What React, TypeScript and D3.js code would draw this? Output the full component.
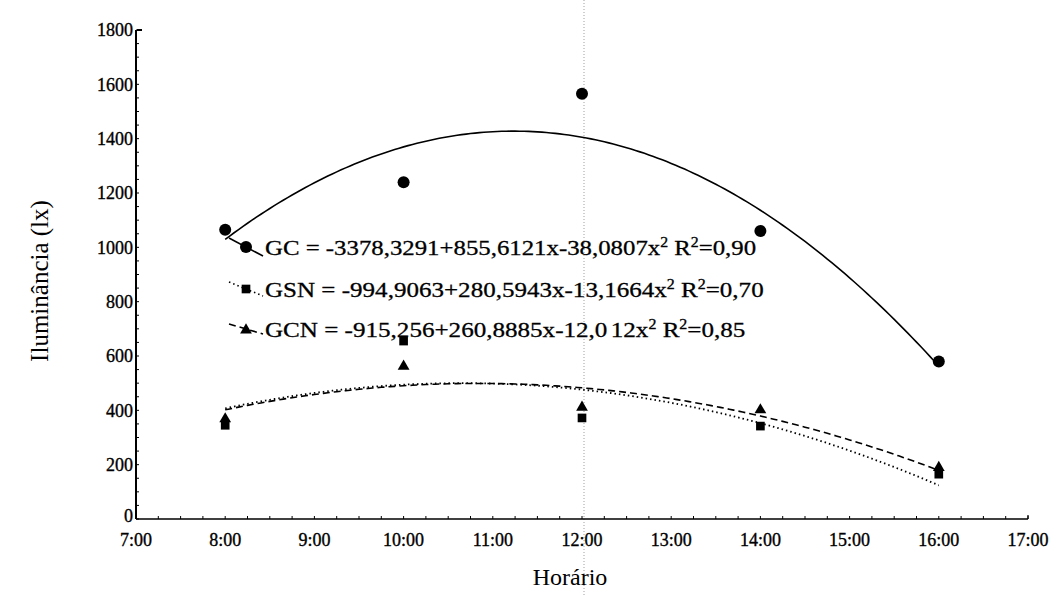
import React from "react";
import * as d3 from "d3";

const hours = [8, 10, 12, 14, 16];
const gcValues = [1065, 1240, 1565, 1060, 580];
const gsnValues = [345, 655, 372, 342, 165];
const gcnValues = [372, 566, 415, 405, 193];

// regression coefficients (a + b x + c x^2)
const gcCoef = [-3378.3291, 855.6121, -38.0807];
const gsnCoef = [-994.9063, 280.5943, -13.1664];
const gcnCoef = [-915.256, 260.8885, -12.0312];

const xTicks = [7, 8, 9, 10, 11, 12, 13, 14, 15, 16, 17];
const yTicks = [0, 200, 400, 600, 800, 1000, 1200, 1400, 1600, 1800];

const legendLabels = [
  { name: "GC", eq: " = -3378,3291+855,6121x-38,0807x", r: "0,90", width: 512 },
  { name: "GSN", eq: " = -994,9063+280,5943x-13,1664x", r: "0,70", width: 517 },
  { name: "GCN", eq: " = -915,256+260,8885x-12,0", r: "0,85", eqTail: "12x", width: 497 },
];

const W = 1060;
const H = 595;
const font = "'Liberation Serif', 'DejaVu Serif', serif";

export default function App() {
  const x = d3.scaleLinear().domain([7, 17]).range([136, 1028]);
  const y = d3.scaleLinear().domain([0, 1800]).range([519, 30]);

  const poly = (c: number[]) => (t: number) => c[0] + c[1] * t + c[2] * t * t;
  const curveData = (c: number[]) => d3.range(8, 16.0001, 0.05).map((t) => [t, poly(c)(t)] as [number, number]);
  const line = d3
    .line<[number, number]>()
    .x((d) => x(d[0]))
    .y((d) => y(d[1]))
    .curve(d3.curveLinear);

  const minorX = d3.range(7, 17.001, 0.25);
  const minorY = d3.range(0, 1800.001, 50);

  const tri = d3.symbol().type(d3.symbolTriangle).size(60)();
  const sq = d3.symbol().type(d3.symbolSquare).size(75)();

  const legendX = 246;
  const legendY = [247, 289, 329];
  const styles = [
    { dash: undefined, kind: "circle" },
    { dash: "1.5,3", kind: "square" },
    { dash: "7,4", kind: "triangle" },
  ];

  const marker = (kind: string, cx: number, cy: number, key: string) => {
    if (kind === "circle") return <circle key={key} cx={cx} cy={cy} r={6} fill="#000" />;
    if (kind === "square") return <path key={key} d={sq as string} transform={`translate(${cx},${cy})`} fill="#000" />;
    return <path key={key} d={tri as string} transform={`translate(${cx},${cy + 1})`} fill="#000" />;
  };

  const legendFont = 22;
  const baseWidthPerFont = 392 / 19; // measured GC width at 19px
  return (
    <svg
      width={W}
      height={H}
      style={{ position: "absolute", left: 0, top: 0, background: "#fff" }}
      fontFamily={font}
    >
      <rect width={W} height={H} fill="#fff" />
      {/* scan artifact vertical line */}
      <line x1={584} x2={584} y1={0} y2={H} stroke="#b0b0b0" strokeWidth={1.2} strokeDasharray="1,2" />

      {/* axes */}
      <line x1={x(7)} x2={x(7)} y1={y(0)} y2={y(1800)} stroke="#000" strokeWidth={2} />
      <line x1={x(7) + 1} x2={x(7) + 6} y1={y(1800)} y2={y(1800)} stroke="#000" strokeWidth={2} />
      <line x1={x(7)} x2={x(17)} y1={y(0)} y2={y(0)} stroke="#000" strokeWidth={1.6} />
      <line x1={x(17)} x2={x(17)} y1={y(0)} y2={y(0) - 4} stroke="#000" strokeWidth={1.2} />
      {minorX.map((t, i) => (
        <line key={"mx" + i} x1={x(t)} x2={x(t)} y1={y(0)} y2={y(0) - 3} stroke="#000" strokeWidth={1} />
      ))}
      {minorY.map((v, i) => (
        <line key={"my" + i} x1={x(7)} x2={x(7) + 3} y1={y(v)} y2={y(v)} stroke="#000" strokeWidth={1} />
      ))}

      {yTicks.map((v) => (
        <text
          key={"yt" + v}
          x={x(7) - 3}
          y={v === 0 ? y(v) - 3 : y(v)}
          dy="0.35em"
          textAnchor="end"
          fontSize={18}
          fill="#000"
          stroke="#000"
          strokeWidth={0.35}
        >
          {v}
        </text>
      ))}
      {xTicks.map((t) => (
        <text
          key={"xt" + t}
          x={x(t)}
          y={546}
          textAnchor="middle"
          fontSize={18}
          fill="#000"
          stroke="#000"
          strokeWidth={0.35}
        >
          {`${t}:00`}
        </text>
      ))}

      <text x={570} y={585} textAnchor="middle" fontSize={24} fill="#000">
        Horário
      </text>
      <text transform={`translate(48,281) rotate(-90)`} textAnchor="middle" fontSize={25} fill="#000">
        Iluminância (lx)
      </text>

      {/* curves */}
      <path d={line(curveData(gcCoef)) as string} fill="none" stroke="#000" strokeWidth={1.6} />
      <path d={line(curveData(gsnCoef)) as string} fill="none" stroke="#000" strokeWidth={1.8} strokeDasharray="1.5,3" />
      <path d={line(curveData(gcnCoef)) as string} fill="none" stroke="#000" strokeWidth={1.6} strokeDasharray="7,4" />

      {/* points */}
      {hours.map((h, i) => marker("circle", x(h), y(gcValues[i]), "gc" + i))}
      {hours.map((h, i) => marker("square", x(h), y(gsnValues[i]), "gsn" + i))}
      {hours.map((h, i) => marker("triangle", x(h), y(gcnValues[i]), "gcn" + i))}

      {/* legend */}
      {legendLabels.map((l, i) => {
        const ly = legendY[i];
        const st = styles[i];
        const natural = baseWidthPerFont * legendFont * (i === 2 ? 0.96 : 1);
        const sx = l.width / natural;
        return (
          <g key={"lg" + i}>
            <line
              x1={legendX - 17}
              x2={legendX + 17}
              y1={ly - 9 + i * 2}
              y2={ly + 9 - i * 2}
              stroke="#000"
              strokeWidth={1.6}
              strokeDasharray={st.dash}
            />
            {marker(st.kind, legendX, ly, "lm" + i)}
            <g transform={`translate(265,${ly}) scale(${sx},1)`}>
              <text x={0} y={0} dy="0.35em" fontSize={legendFont} fill="#000" stroke="#000" strokeWidth={0.3}>
                {l.name}
                {l.eq}
                {l.eqTail ? <tspan dx={3}>{l.eqTail}</tspan> : null}
                <tspan dy={-8} fontSize={14}>2</tspan>
                <tspan dy={8}> R</tspan>
                <tspan dy={-8} fontSize={14}>2</tspan>
                <tspan dy={8}>={l.r}</tspan>
              </text>
            </g>
          </g>
        );
      })}
    </svg>
  );
}
